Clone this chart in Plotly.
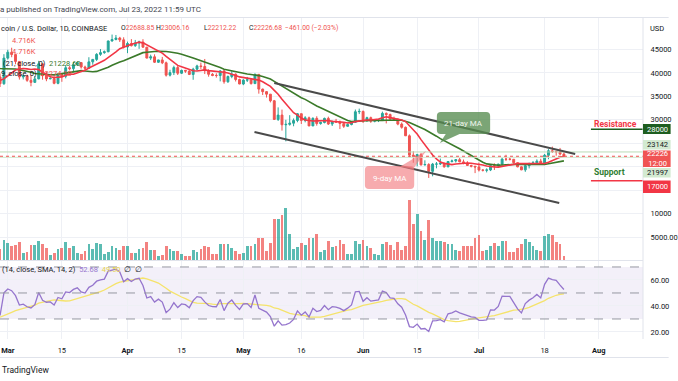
import pandas as pd
import numpy as np
import plotly.graph_objects as go

# ---------------- data ----------------
warmup_start = "2022-01-20"
warmup_close = [40700, 36480, 35050, 36280, 36650, 36950, 36830, 37150, 37710, 38170, 37920, 38480,
                38740, 36950, 37320, 41570, 41410, 42410, 43840, 44040, 44380, 43540, 42390, 42210,
                42070, 42550, 44580, 43930, 40550, 40000, 40130, 38430, 37030, 38270, 37260, 38360,
                39250, 39140]

start = "2022-02-27"
close = [37700, 43160,
         44420, 43920, 42450, 39140, 39400, 38420, 37990, 38730, 41940, 39420, 38730, 38810, 37780, 39670,
         39280, 41110, 40920, 41770, 42210, 41260, 41000, 42360, 42890, 43960, 44330, 44520, 46820, 47130,
         47450, 47060, 45530,
         46280, 45810, 46400, 46580, 45500, 43170, 43440, 42280, 42770, 42160, 39530, 40070, 41150, 39940,
         40550, 40390, 39680, 40800, 41500, 41370, 40480, 39710, 39470, 39450, 40430, 38120, 39240, 39740,
         38600, 37640,
         38470, 38520, 37720, 39690, 36550, 36010, 35470, 34060, 30080, 31010, 28940, 29030, 29280, 29860,
         31300, 29860, 30420, 28700, 30310, 29200, 29430, 30300, 29100, 29650, 29540, 29200, 28620, 28990,
         29460, 31720, 31790,
         29800, 30450, 29700, 29860, 29910, 31370, 31130, 30200, 30110, 29090, 28400, 26590, 22470, 22130,
         22580, 20390, 20460, 19010, 20550, 20570, 20720, 19970, 21100, 21230, 21500, 21030, 20730, 20260,
         20100, 19940,
         19280, 19250, 19300, 20230, 20190, 20540, 21620, 21590, 21580, 20850, 19960, 19320, 20220, 20580,
         20830, 21190, 20790, 22430, 23390, 23230, 23160, 22688.85, 22226.68]
high = [39880, 44000,
        44950, 45380, 44100, 42500, 39650, 39650, 39540, 39350, 42580, 41950, 40260, 39320, 39300, 39900,
        39880, 41700, 41460, 42300, 42380, 42290, 41550, 43350, 42900, 44220, 45090, 44790, 46900, 48190,
        48100, 47700, 47600,
        46680, 47210, 47040, 46880, 47200, 45510, 43900, 43970, 42800, 43420, 42420, 40680, 41550, 41500,
        40710, 40650, 40600, 41100, 41750, 42200, 42980, 40790, 39970, 39920, 40600, 40770, 39450, 40370,
        39900, 38770,
        38660, 39150, 38640, 39900, 39780, 36650, 36130, 35500, 34240, 32650, 32180, 30000, 30990, 30290,
        31420, 31310, 30780, 30680, 30540, 30760, 29600, 30470, 30670, 29830, 30200, 29860, 29370, 29200,
        29540, 32190, 32390,
        31970, 30660, 30680, 29950, 30160, 31750, 31570, 31330, 30680, 30340, 29440, 28560, 26880, 23300,
        22750, 22950, 21360, 20750, 20800, 21000, 21730, 20870, 21200, 21520, 21610, 21860, 21520, 21180,
        20420, 20140,
        20880, 19410, 19640, 20350, 20710, 20650, 21830, 22540, 21950, 21600, 20860, 20060, 20250, 20870,
        21200, 21570, 21680, 22720, 23750, 24280, 23430, 24000, 23006.16]
low = [37000, 37470,
       42850, 43350, 41840, 38580, 38610, 38100, 37160, 37860, 38650, 38550, 38230, 38660, 37580, 37580,
       38110, 38850, 40550, 40140, 41520, 40920, 40510, 40890, 41750, 42560, 43650, 44080, 44420, 46680,
       46960, 46600, 45220,
       44220, 45650, 45560, 45140, 45400, 43120, 42750, 42120, 42140, 41880, 39220, 39250, 39550, 39560,
       39770, 40020, 39550, 38540, 40560, 40850, 39760, 39200, 39300, 39000, 38200, 37700, 37880, 38880,
       38180, 37600,
       37390, 38060, 37520, 37670, 35580, 35280, 34750, 33710, 30050, 29750, 27700, 25400, 28750, 28620,
       29480, 29110, 29460, 28650, 28660, 28750, 28960, 29240, 28890, 28680, 29330, 28020, 28270, 28570,
       28830, 29330, 31220,
       29320, 29600, 29350, 29470, 29520, 29900, 29230, 29860, 29980, 28840, 28110, 26570, 22000, 20840,
       20070, 20250, 20250, 17600, 17950, 19650, 20340, 19790, 19910, 20900, 20890, 20970, 20520, 20190,
       19850, 18630,
       18970, 18980, 18780, 19060, 19300, 19770, 20250, 21200, 21340, 20660, 19880, 19260, 18900, 19630,
       20380, 20480, 20760, 20770, 21600, 22920, 22340, 22520, 22212.22]
volume_k = [13.3, 23.2,
            20.1, 16.2, 17.7, 21.6, 8.3, 9.8, 17.7, 17.7, 22.4, 19.2, 13.8, 5.9, 8.3, 13.0, 13.8, 20.9,
            14.5, 16.2, 8.3, 7.4, 10.6, 18.5, 13.0, 20.1, 18.5, 7.4, 9.8, 16.9, 14.5, 12.2, 16.2,
            16.9, 8.3, 8.3, 13.0, 13.8, 21.6, 12.2, 11.4, 5.1, 5.9, 16.2, 13.0, 10.6, 10.6, 6.7, 4.4,
            5.1, 11.4, 9.8, 13.0, 16.2, 15.3, 7.4, 6.7, 18.5, 19.2, 18.5, 14.5, 10.6, 6.7,
            8.3, 16.2, 16.2, 19.2, 25.6, 25.6, 10.6, 20.1, 48.4, 48.4, 53.1, 61.0, 30.3, 13.0, 15.3,
            20.1, 17.7, 25.6, 25.6, 30.3, 9.8, 11.4, 22.4, 15.3, 16.2, 24.0, 19.2, 7.4, 6.7, 22.4, 19.2,
            24.0, 16.9, 13.8, 6.7, 5.9, 18.5, 20.9, 17.7, 12.2, 20.9, 12.2, 16.9, 70.8, 42.1, 54.6,
            34.2, 23.2, 46.8, 26.3, 22.4, 22.4, 20.9, 19.2, 19.2, 12.2, 10.6, 16.2, 16.2, 16.9, 25.6,
            29.5, 10.6,
            12.2, 16.2, 20.1, 16.9, 22.4, 22.4, 9.1, 9.1, 14.5, 19.2, 24.8, 21.6, 16.2, 11.4, 10.6, 28.0,
            31.0, 29.5, 21.6, 19.2, 4.716]

x_ticks = ["2022-03-01", "2022-03-15", "2022-04-01", "2022-04-15", "2022-05-01", "2022-05-16",
           "2022-06-01", "2022-06-15", "2022-07-01", "2022-07-18", "2022-08-01"]
x_ticktext = ["<b>Mar</b>", "15", "<b>Apr</b>", "15", "<b>May</b>", "16", "<b>Jun</b>", "15",
              "<b>Jul</b>", "18", "<b>Aug</b>"]
price_ticks = [5000, 10000, 15000, 20000, 25000, 30000, 35000, 40000, 45000]
price_ticktext = ["5000.00", "10000", "", "", "", "30000", "35000", "40000", "45000"]
rsi_ticks = [20, 40, 60]
rsi_ticktext = ["20.00", "40.00", "60.00"]

resistance = 28000
support = 17000
level_hi = 23142
level_lo = 21997
last_price = 22226.68

# ---------------- derived series ----------------
all_close = pd.Series(warmup_close + close,
                      index=pd.date_range(warmup_start, periods=len(warmup_close) + len(close)))
dates = pd.date_range(start, periods=len(close))
opens = all_close.shift(1).loc[dates].values
sma9 = all_close.rolling(9).mean()
sma21 = all_close.rolling(21).mean()
d = all_close.diff()
up = d.clip(lower=0).ewm(alpha=1 / 14, adjust=False).mean()
dn = (-d.clip(upper=0)).ewm(alpha=1 / 14, adjust=False).mean()
rsi = 100 - 100 / (1 + up / dn)
rsi_ma = rsi.rolling(14).mean()

# ---------------- layout geometry ----------------
W, H = 678, 381
ML, MR, MT, MB = 0, 26, 18, 42
PW, PH = W - ML - MR, H - MT - MB
def px(x): return (x - ML) / PW
def py(y): return (H - MB - y) / PH

GREEN = "#26a69a"
RED = "#ef5350"
FONT = "Roboto"
TXT = "#131722"

up_mask = np.array(close) >= opens
vol_colors = ["rgba(38,166,154,0.75)" if u else "rgba(239,83,80,0.72)" for u in up_mask]

fig = go.Figure()
fig.add_trace(go.Bar(x=dates, y=volume_k, marker=dict(color=vol_colors, line=dict(width=0)),
                     width=0.72 * 86400000, xaxis="x", yaxis="y", hoverinfo="skip", showlegend=False))
fig.add_trace(go.Candlestick(x=dates, open=opens, high=high, low=low, close=close,
                             increasing=dict(line=dict(color=GREEN, width=1), fillcolor=GREEN),
                             decreasing=dict(line=dict(color=RED, width=1), fillcolor=RED),
                             whiskerwidth=0, xaxis="x", yaxis="y2", hoverinfo="skip", showlegend=False))
fig.add_trace(go.Scatter(x=sma21.index, y=sma21.values, mode="lines", line=dict(color="#3b7a2a", width=1.6),
                         xaxis="x", yaxis="y2", hoverinfo="skip", showlegend=False))
fig.add_trace(go.Scatter(x=sma9.index, y=sma9.values, mode="lines", line=dict(color="#f23645", width=1.6),
                         xaxis="x", yaxis="y2", hoverinfo="skip", showlegend=False))
fig.add_trace(go.Scatter(x=rsi_ma.loc[dates].index, y=rsi_ma.loc[dates].values, mode="lines",
                         line=dict(color="#f5e36b", width=1.3), xaxis="x", yaxis="y3",
                         hoverinfo="skip", showlegend=False))
fig.add_trace(go.Scatter(x=rsi.loc[dates].index, y=rsi.loc[dates].values, mode="lines",
                         line=dict(color="#9575cd", width=1.3), xaxis="x", yaxis="y3",
                         hoverinfo="skip", showlegend=False))

shapes = []
shapes.append(dict(type="rect", xref="paper", yref="y3", x0=0, x1=1, y0=30, y1=70,
                   fillcolor="rgba(126,87,194,0.09)", line=dict(width=0), layer="below"))
for lv in (70, 50, 30):
    shapes.append(dict(type="line", xref="paper", yref="y3", x0=0, x1=1, y0=lv, y1=lv,
                       line=dict(color="#9598a1", width=1, dash="dash")))
shapes.append(dict(type="line", xref="paper", yref="y2", x0=0, x1=1, y0=level_hi, y1=level_hi,
                   line=dict(color="#b9dbb6", width=1)))
shapes.append(dict(type="line", xref="paper", yref="y2", x0=0, x1=1, y0=level_lo, y1=level_lo,
                   line=dict(color="#cfe6cc", width=1)))
shapes.append(dict(type="line", xref="paper", yref="y2", x0=0, x1=1, y0=last_price, y1=last_price,
                   line=dict(color="#ef5350", width=1, dash="dot")))
shapes.append(dict(type="line", xref="x", yref="y2", x0="2022-07-30", x1="2022-08-14",
                   y0=resistance, y1=resistance, line=dict(color="#1e5e20", width=1.5)))
shapes.append(dict(type="line", xref="x", yref="y2", x0="2022-07-30", x1="2022-08-14",
                   y0=support, y1=support, line=dict(color="#f23645", width=1.5)))
shapes.append(dict(type="line", xref="x", yref="y2", x0="2022-05-09 00:00", y0=37850,
                   x1="2022-07-25 22:00", y1=22700, line=dict(color="#4a4a4a", width=2)))
shapes.append(dict(type="line", xref="x", yref="y2", x0="2022-05-03 21:00", y0=27400,
                   x1="2022-07-21 19:00", y1=12250, line=dict(color="#4a4a4a", width=2)))

def rrect(x0, y0, x1, y1, r):
    pts = []
    pts.append(f"M {px(x0+r)},{py(y0)}")
    pts.append(f"L {px(x1-r)},{py(y0)} Q {px(x1)},{py(y0)} {px(x1)},{py(y0+r)}")
    pts.append(f"L {px(x1)},{py(y1-r)} Q {px(x1)},{py(y1)} {px(x1-r)},{py(y1)}")
    pts.append(f"L {px(x0+r)},{py(y1)} Q {px(x0)},{py(y1)} {px(x0)},{py(y1-r)}")
    pts.append(f"L {px(x0)},{py(y0+r)} Q {px(x0)},{py(y0)} {px(x0+r)},{py(y0)} Z")
    return " ".join(pts)

def tri(p):
    return "M " + " L ".join(f"{px(a)},{py(b)}" for a, b in p) + " Z"

g_fill = "rgba(86,140,80,0.78)"
p_fill = "rgba(242,120,125,0.62)"
shapes.append(dict(type="path", xref="paper", yref="paper", path=rrect(443, 112, 497, 134, 4),
                   fillcolor=g_fill, line=dict(width=0)))
shapes.append(dict(type="path", xref="paper", yref="paper", path=tri([(452, 134), (466, 134), (446, 143)]),
                   fillcolor=g_fill, line=dict(width=0)))
shapes.append(dict(type="path", xref="paper", yref="paper", path=rrect(370, 166, 420, 189, 4),
                   fillcolor=p_fill, line=dict(width=0)))
shapes.append(dict(type="path", xref="paper", yref="paper", path=tri([(406, 166.5), (419, 169), (432, 151)]),
                   fillcolor=p_fill, line=dict(width=0)))

shapes.append(dict(type="line", xref="paper", yref="paper", x0=0, x1=px(W), y0=py(17.5), y1=py(17.5),
                   line=dict(color="#e0e3eb", width=1)))
shapes.append(dict(type="line", xref="paper", yref="paper", x0=0, x1=px(W), y0=py(357.5), y1=py(357.5),
                   line=dict(color="#e0e3eb", width=1)))
shapes.append(dict(type="line", xref="paper", yref="paper", x0=0, x1=1, y0=py(260.5), y1=py(260.5),
                   line=dict(color="#e0e3eb", width=1)))
shapes.append(dict(type="line", xref="paper", yref="paper", x0=1, x1=1, y0=py(18), y1=py(339),
                   line=dict(color="#e0e3eb", width=1)))

boxes = [(124, 134, "#1e5e20", "28000", "white"),
         (140, 149.5, "#d3ead1", "23142", TXT),
         (150.5, 167, "#f05454", "22226<br>12:00", "white"),
         (168, 177.5, "#d3ead1", "21997", TXT),
         (180.5, 193, "#f23645", "17000", "white")]
ann = []
for y0, y1, col, t, tc in boxes:
    shapes.append(dict(type="rect", xref="paper", yref="paper", x0=px(652), x1=px(680),
                       y0=py(y1), y1=py(y0), fillcolor=col, line=dict(width=0)))
    ann.append(dict(xref="paper", yref="paper", x=px(654), y=py((y0 + y1) / 2), xanchor="left",
                    yanchor="middle", text=t, showarrow=False, font=dict(family=FONT, size=7.5, color=tc)))

def txt(x, y, t, color=TXT, size=7.5, anchor="left", bold=False):
    ann.append(dict(xref="paper", yref="paper", x=px(x), y=py(y), xanchor=anchor, yanchor="middle",
                    text=f"<b>{t}</b>" if bold else t, showarrow=False,
                    font=dict(family=FONT, size=size, color=color)))

txt(-2, 9, "a published on TradingView.com, Jul 23, 2022 11:59 UTC", color="#434651", size=8)
txt(-1, 28, "coin / U.S. Dollar, 1D, COINBASE")
txt(121, 28, f"O<span style='color:{RED}'>22688.85</span>", size=6.8)
txt(156.5, 28, f"H<span style='color:{RED}'>23006.16</span>", size=6.8)
txt(205, 28, f"L<span style='color:{RED}'>22212.22</span>", size=6.8)
txt(250.5, 28, f"C<span style='color:{RED}'>22226.68</span>", size=6.8)
txt(286.5, 28, "−461.00 (−2.03%)", color=RED, size=6.8)
txt(10, 40, "4.716K", color=RED)
txt(10, 51, "4.716K", color=RED)
txt(1, 63, f"(21, close, 0)  <span style='color:#3b7a2a'>21228.60</span>")
txt(-1, 73.5, f"9, close, 0)  <span style='color:{RED}'>22274.10</span>")
txt(0, 269.5, "(14, close, SMA, 14, 2)  <span style='color:#9575cd'>52.68</span>  "
              "<span style='color:#e8d44d'>49.50</span>  ∅  ∅")
txt(657, 28, "USD")
txt(470, 123, "21-day MA", color="#eef5ec", size=8, anchor="center")
txt(395, 178, "9-day MA", color="#ffffff", size=8, anchor="center")
txt(600, 123.5, "Resistance", color="#f23645", size=8.5, bold=True)
txt(600, 171.5, "Support", color="#2e7d32", size=8.5, bold=True)
txt(0, 370, "TradingView", color=TXT, size=8.5)

axis_font = dict(family=FONT, size=7.5, color=TXT)
fig.update_layout(
    width=W, height=H, margin=dict(l=ML, r=MR, t=MT, b=MB),
    paper_bgcolor="white", plot_bgcolor="white", showlegend=False, bargap=0,
    font=dict(family=FONT, size=7.5, color=TXT),
    xaxis=dict(type="date", range=["2022-02-26 23:34", "2022-08-12 11:30"], anchor="y3",
               tickvals=x_ticks, ticktext=x_ticktext, ticks="outside", ticklen=4,
               tickcolor="rgba(0,0,0,0)", showgrid=True, gridcolor="#eef0f5", gridwidth=1,
               zeroline=False, showline=False, tickfont=axis_font, rangeslider=dict(visible=False)),
    yaxis=dict(domain=[py(260), 1], range=[0, 285.6], visible=False, showgrid=False, fixedrange=True),
    yaxis2=dict(domain=[py(260), 1], overlaying="y", anchor="x", side="right",
                range=[93, 51720], tickvals=price_ticks, ticktext=price_ticktext,
                ticks="outside", ticklen=5, tickcolor="rgba(0,0,0,0)", showgrid=True,
                gridcolor="#eef0f5", zeroline=False, showline=False, tickfont=axis_font),
    yaxis3=dict(domain=[0, py(261)], anchor="x", side="right", range=[14.6, 74.6],
                tickvals=rsi_ticks, ticktext=rsi_ticktext, ticks="outside", ticklen=5,
                tickcolor="rgba(0,0,0,0)", showgrid=True, gridcolor="#eef0f5", zeroline=False,
                showline=False, tickfont=axis_font),
    shapes=shapes, annotations=ann,
)
fig.write_html("out.html", config={"displayModeBar": False},
               post_script="document.body.style.margin='0';document.body.style.overflow='hidden';")
